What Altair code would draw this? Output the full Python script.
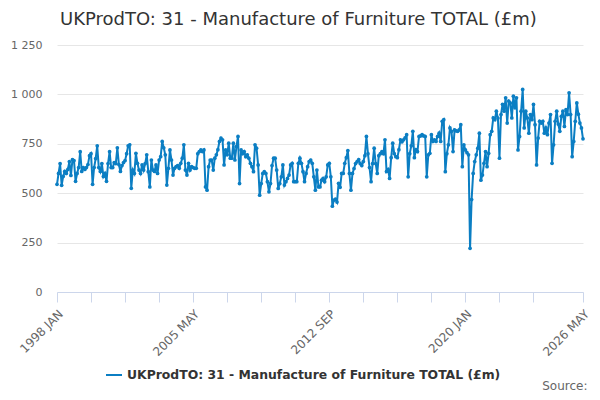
import altair as alt
import pandas as pd

TITLE = "UKProdTO: 31 - Manufacture of Furniture TOTAL (£m)"
SERIES = "UKProdTO: 31 - Manufacture of Furniture TOTAL (£m)"
MONTHS = ["JAN", "FEB", "MAR", "APR", "MAY", "JUN", "JUL", "AUG", "SEP", "OCT", "NOV", "DEC"]
START_YEAR = 1998

y1998 = [545, 600, 650, 540, 585, 610, 600, 620, 660, 590, 670, 665]
y1999 = [560, 600, 630, 710, 610, 630, 620, 630, 645, 690, 700, 545]
y2000 = [630, 675, 740, 630, 610, 650, 585, 600, 560, 650, 710, 630]
y2001 = [630, 655, 650, 730, 645, 610, 640, 655, 665, 700, 740, 745]
y2002 = [525, 617, 600, 702, 651, 617, 600, 643, 617, 650, 694, 609]
y2003 = [532, 668, 617, 610, 643, 600, 668, 685, 762, 730, 694, 541]
y2004 = [626, 719, 668, 592, 626, 635, 640, 626, 651, 677, 745, 617]
y2005 = [592, 651, 617, 634, 630, 626, 626, 700, 711, 719, 711, 719]
y2006 = [532, 515, 634, 668, 668, 617, 677, 694, 720, 762, 779, 770]
y2007 = [643, 719, 694, 753, 677, 677, 753, 668, 736, 787, 549, 719]
y2008 = [700, 711, 685, 694, 677, 651, 634, 609, 745, 728, 643, 490]
y2009 = [549, 600, 609, 600, 558, 507, 549, 640, 677, 677, 617, 524]
y2010 = [549, 583, 643, 541, 558, 575, 592, 643, 651, 558, 558, 558]
y2011 = [651, 677, 651, 609, 558, 600, 634, 660, 668, 651, 583, 515]
y2012 = [617, 532, 532, 566, 575, 558, 583, 643, 651, 583, 434, 465]
y2013 = [470, 455, 550, 530, 600, 600, 651, 680, 716, 600, 515, 600]
y2014 = [625, 650, 660, 670, 650, 640, 660, 690, 787, 700, 630, 558]
y2015 = [650, 728, 650, 600, 690, 700, 710, 700, 770, 610, 620, 575]
y2016 = [680, 753, 700, 685, 680, 720, 770, 760, 770, 780, 796, 583]
y2017 = [700, 740, 813, 680, 720, 711, 787, 790, 796, 790, 787, 583]
y2018 = [694, 702, 796, 762, 770, 762, 787, 804, 762, 864, 872, 609]
y2019 = [700, 745, 830, 813, 711, 821, 815, 813, 821, 847, 634, 745]
y2020 = [719, 705, 694, 221, 468, 600, 660, 694, 728, 804, 566, 592]
y2021 = [651, 711, 634, 702, 796, 813, 881, 872, 915, 880, 677, 898]
y2022 = [950, 915, 983, 855, 966, 957, 881, 991, 932, 983, 719, 787]
y2023 = [915, 1025, 830, 915, 881, 804, 898, 872, 949, 847, 643, 779]
y2024 = [864, 855, 864, 804, 830, 796, 855, 898, 651, 745, 864, 915]
y2025 = [850, 813, 889, 915, 838, 923, 898, 1008, 898, 685, 762, 864]
y2026 = [957, 900, 855, 830, 775]

YEAR_VALUES = [y1998, y1999, y2000, y2001, y2002, y2003, y2004, y2005, y2006, y2007,
               y2008, y2009, y2010, y2011, y2012, y2013, y2014, y2015, y2016, y2017,
               y2018, y2019, y2020, y2021, y2022, y2023, y2024, y2025, y2026]

Y_TICKS = [0, 250, 500, 750, 1000, 1250]
X_TICKS = [0, 22, 44, 66, 88, 110, 132, 154, 176, 198, 220, 242, 264, 286, 308, 340]
X_LABELS = {0: "1998 JAN", 88: "2005 MAY", 176: "2012 SEP", 264: "2020 JAN", 340: "2026 MAY"}

values = [v for year in YEAR_VALUES for v in year]
n = len(values)
months = [f"{START_YEAR + i // 12} {MONTHS[i % 12]}" for i in range(n)]
df = pd.DataFrame({"idx": list(range(n)), "month": months, "value": values, "series": [SERIES] * n})

label_expr = "''"
for k, lab in X_LABELS.items():
    label_expr = f"datum.value == {k} ? '{lab}' : ({label_expr})"

BLUE = "#0b7ec3"

chart = alt.Chart(df).mark_line(
    strokeWidth=2,
    point=alt.OverlayMarkDef(filled=True, size=14),
).encode(
    x=alt.X("idx:Q",
            scale=alt.Scale(domain=[0, n - 1], nice=False, zero=False),
            axis=alt.Axis(values=X_TICKS, labelExpr=label_expr, grid=False,
                          domainColor="#ccd6eb", tickColor="#ccd6eb", tickSize=10,
                          labelAngle=315, labelFontSize=12, labelColor="#666666",
                          labelPadding=6, labelFont="DejaVu Sans",
                          labelOverlap=False, labelFlush=False,
                          title="Source:", titleAnchor="end", titleAlign="right",
                          titleX=530, titleY=97, titleBaseline="alphabetic",
                          titleFontSize=12, titleColor="#666666", titleFontWeight="normal",
                          titleFont="DejaVu Sans")),
    y=alt.Y("value:Q",
            scale=alt.Scale(domain=[0, 1250], nice=False),
            axis=alt.Axis(values=Y_TICKS,
                          labelExpr="replace(format(datum.value, ','), ',', ' ')",
                          domain=False, ticks=False, gridColor="#e6e6e6",
                          labelFontSize=11, labelColor="#666666", labelPadding=15,
                          labelFont="DejaVu Sans", title=None)),
    color=alt.Color("series:N",
                    scale=alt.Scale(domain=[SERIES], range=[BLUE]),
                    legend=alt.Legend(orient="none", legendX=48, legendY=321, title=None,
                                      labelFontSize=12.4, labelFontWeight="bold",
                                      labelColor="#333333", labelFont="DejaVu Sans",
                                      symbolType="stroke", symbolStrokeWidth=2,
                                      symbolSize=256, labelLimit=0)),
    tooltip=["month:N", "value:Q"],
).properties(
    width=526,
    height=247,
    title=alt.TitleParams(TITLE, fontSize=18, font="DejaVu Sans", color="#333333",
                          fontWeight="normal", anchor="start", frame="group", dx=3,
                          offset=10),
    autosize=alt.AutoSizeParams(type="none"),
    padding={"left": 49, "top": 37, "right": 9, "bottom": 100},
).configure_view(stroke=None)

chart.save("out.html", embed_options={"renderer": "svg", "actions": False})
